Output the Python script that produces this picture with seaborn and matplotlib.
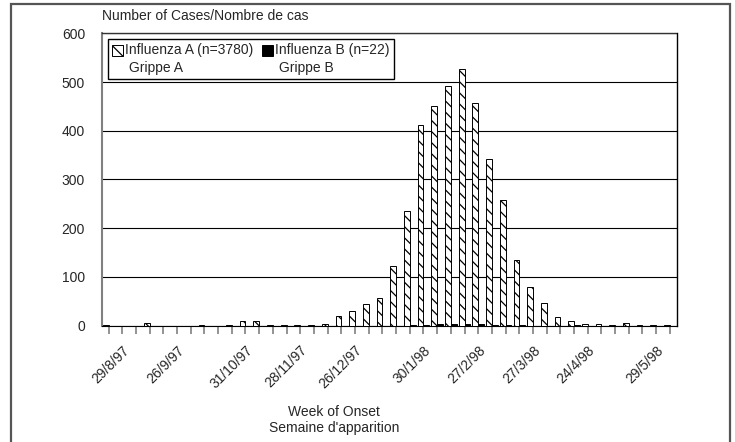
import pandas as pd
import numpy as np
import matplotlib
matplotlib.use("Agg")
import matplotlib.pyplot as plt
import seaborn as sns
from matplotlib.patches import Rectangle
from matplotlib.container import BarContainer
from matplotlib.legend_handler import HandlerPatch, update_from_first_child

# weekly counts, week ending 22/8/97 .. 5/6/98
weeks = pd.date_range("1997-08-22", periods=42, freq="7D")
flu_a = [1, 0, 0, 5, 0, 0, 0, 1, 0, 1, 9, 9, 1, 1, 1, 1, 3, 20, 30, 44, 56,
         123, 236, 412, 450, 491, 527, 456, 343, 257, 135, 79, 46, 18, 9,
         3, 3, 1, 5, 1, 1, 1]
flu_b = [0, 0, 0, 0, 0, 0, 0, 0, 0, 0, 0, 0, 0, 0, 0, 0, 0, 0, 0, 0, 0,
         0, 1, 2, 3, 3, 4, 3, 2, 2, 1, 0, 0, 0, 1, 0, 0, 0, 0, 0, 0, 0]
label_dates = ["29/8/97", "26/9/97", "31/10/97", "28/11/97", "26/12/97",
               "30/1/98", "27/2/98", "27/3/98", "24/4/98", "29/5/98"]
series_names = ["A", "B"]
legend_labels = ["Influenza A (n=3780)\n Grippe A", "Influenza B (n=22)\n Grippe B"]

week_str = [f"{d.day}/{d.month}/{d.strftime('%y')}" for d in weeks]
df = pd.DataFrame({
    "week": week_str * 2,
    "cases": flu_a + flu_b,
    "series": ["A"] * len(flu_a) + ["B"] * len(flu_b),
})

sns.set_style("white")
plt.rcParams["font.family"] = ["Liberation Sans", "DejaVu Sans"]
plt.rcParams["hatch.linewidth"] = 0.9
plt.rcParams["hatch.color"] = "#222222"
FS = 10

fig = plt.figure(figsize=(7.35, 4.42), dpi=100)
ax = fig.add_axes([0.1384, 0.2631, 0.7823, 0.6616])

sns.barplot(data=df, x="week", y="cases", hue="series", order=week_str,
            hue_order=series_names, palette=["white", "black"], width=0.84,
            edgecolor="black", linewidth=0.7, dodge=True, legend=False, ax=ax)
for p in ax.containers[0]:
    p.set_hatch("\\\\\\")
    p.set_facecolor("white")
for c in ax.containers:
    for p in c:
        p.set_zorder(3)

ax.set_ylim(0, 600)
ax.set_xlim(-0.5, len(week_str) - 0.5)
ax.set_yticks(range(0, 601, 100))
ax.tick_params(axis="y", length=0, pad=12, labelsize=FS)
ax.yaxis.grid(True, color="black", linewidth=0.8)
ax.set_axisbelow(True)

ax.set_xticks(range(len(week_str)))
ax.set_xticklabels([w if w in label_dates else "" for w in week_str],
                   rotation=45, ha="right", rotation_mode="anchor", fontsize=FS)
ax.tick_params(axis="x", length=5.5, width=1.2, color="#808080", pad=7,
               bottom=True, direction="out")

for s in ["left", "right", "bottom", "top"]:
    ax.spines[s].set_visible(True)
ax.spines["left"].set_color("#808080")
ax.spines["left"].set_linewidth(1.5)
ax.spines["bottom"].set_color("black")
ax.spines["right"].set_color("black")
ax.spines["right"].set_linewidth(1.0)
ax.spines["top"].set_linestyle((0, (1, 1)))
ax.spines["top"].set_linewidth(1.0)
ax.spines["top"].set_color("#333333")

ax.set_ylabel("")
ax.set_xlabel("Week of Onset\nSemaine d'apparition", fontsize=FS, linespacing=1.25)
ax.xaxis.set_label_coords(0.404, -0.27)
ax.text(0.0, 1.035, "Number of Cases/Nombre de cas", transform=ax.transAxes,
        fontsize=FS, ha="left", va="bottom")


def top_patch(legend, orig_handle, xdescent, ydescent, width, height, fontsize):
    # put the key next to the first line of the two-line label
    return Rectangle((-xdescent, -ydescent + 0.65 * fontsize), width, height)


leg = ax.legend(handles=[ax.containers[0], ax.containers[1]], labels=legend_labels,
                ncol=2, loc="upper left", bbox_to_anchor=(0.011, 0.98),
                fontsize=FS, frameon=True, fancybox=False, borderpad=0.3,
                handlelength=0.8, handleheight=0.8, handletextpad=0.15,
                columnspacing=0.6, borderaxespad=0,
                handler_map={BarContainer: HandlerPatch(patch_func=top_patch,
                                                        update_func=update_from_first_child)})
leg.get_frame().set_edgecolor("black")
leg.get_frame().set_linewidth(1.0)
leg.get_frame().set_alpha(1)
for t in leg.get_texts():
    t.set_linespacing(1.3)

fig.add_artist(Rectangle((11 / 735, -0.05), (730 - 11) / 735, 1.05 - 3.5 / 442,
                         transform=fig.transFigure, fill=False,
                         edgecolor="#555555", linewidth=1.6))

fig.savefig("out.png", dpi=100)
